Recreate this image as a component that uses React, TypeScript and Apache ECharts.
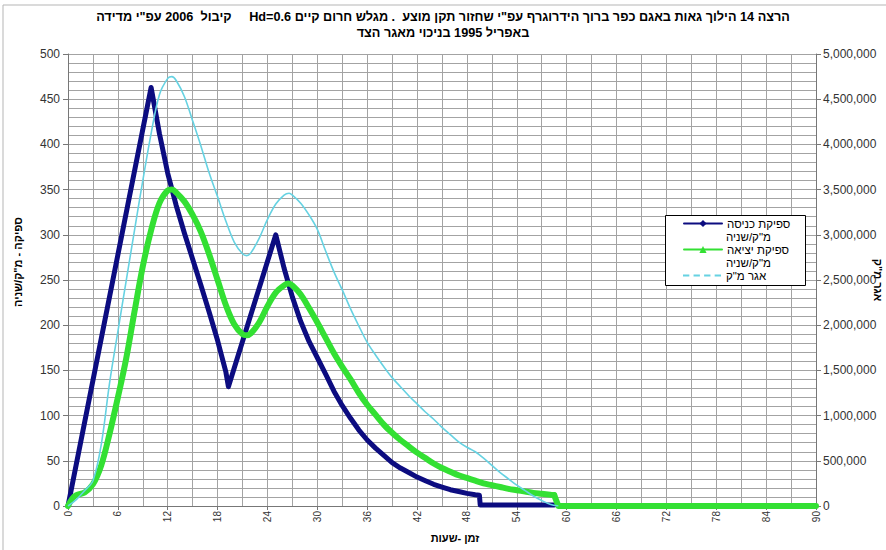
import React, { useEffect, useRef } from 'react';
import * as echarts from 'echarts';

const TITLE_LINE_1 = 'הרצה 14 הילוך גאות באגם כפר ברוך הידרוגרף עפ"י שחזור תקן מוצע  . מגלש חרום קיים Hd=0.6     קיבול  2006 עפ"י מדידה';
const TITLE_LINE_2 = 'באפריל 1995 בניכוי מאגר הצד';
const X_NAME = 'זמן -שעות';
const Y_LEFT_NAME = 'ספיקה - מ"ק/שניה';
const Y_RIGHT_NAME = 'אגר מ"ק';
const SERIES_IN = 'ספיקת כניסה';
const SERIES_OUT = 'ספיקת יציאה';
const SERIES_STORAGE = 'אגר מ"ק';
const UNIT_LINE = 'מ"ק/שניה';

// inflow hydrograph (m3/s)
const inflowHours = [0, 10, 11, 12, 13, 14, 15, 16, 17, 18, 19, 19.3, 25, 26, 27, 28, 29, 30, 31, 32, 33, 34, 35, 36, 37, 38, 39, 40, 41, 42, 43, 44, 45, 46, 47, 48, 49, 49.5, 49.6, 58.5];
const inflowValues = [0, 463, 412, 368, 333, 302, 273, 244, 214, 183, 148, 132, 300, 263, 231, 204, 182, 164, 146, 127, 111, 97, 84, 73, 64, 56, 48, 42, 37, 32, 28, 24, 21, 18, 16, 14, 12.5, 12, 1, 1];

// outflow hydrograph (m3/s)
const outflowHours = [0, 0.5, 1, 2, 3, 4, 5, 6, 7, 8, 9, 10, 11, 12, 12.5, 13, 14, 15, 16, 17, 18, 19, 20, 21, 21.5, 22, 23, 24, 25, 26, 26.5, 27, 28, 29, 30, 31, 32, 33, 34, 35, 36, 37, 38, 39, 40, 41, 42, 43, 44, 45, 46, 47, 48, 49, 50, 51, 52, 53, 54, 55, 56, 57, 58, 58.5];
const outflowValues = [0, 8, 12, 15, 24, 45, 80, 120, 163, 215, 265, 305, 335, 349, 350, 347, 337, 322, 303, 278, 250, 222, 201, 190, 189, 191, 203, 221, 236, 244, 246, 244, 234, 219, 203, 186, 169, 154, 140, 125, 112, 101, 90, 81, 73, 66, 59, 53, 47, 42, 38, 34, 31, 28, 25, 23, 21, 19, 17.5, 16, 14.5, 13.5, 12.5, 12];
const outflowTailHours = [58.5, 59, 90];
const outflowTailValues = [12, 0, 0];

// storage (m3)
const storageHours = [0, 1, 2, 3, 4, 5, 6, 7, 8, 9, 10, 11, 12, 12.5, 13, 14, 15, 16, 17, 18, 19, 20, 21, 21.5, 22, 23, 24, 25, 26, 26.6, 27, 28, 29, 30, 31, 32, 33, 34, 35, 36, 37, 38, 39, 40, 41, 42, 43, 44, 45, 46, 47, 48, 49, 50, 51, 52, 53, 54, 55, 56, 57, 58, 59];
const storageValues = [0, 70000, 170000, 280000, 680000, 1360000, 1930000, 2490000, 3050000, 3600000, 4120000, 4550000, 4730000, 4750000, 4710000, 4530000, 4260000, 3980000, 3680000, 3420000, 3150000, 2920000, 2790000, 2770000, 2800000, 2960000, 3170000, 3340000, 3440000, 3460000, 3440000, 3350000, 3220000, 3060000, 2820000, 2590000, 2390000, 2180000, 1990000, 1810000, 1670000, 1540000, 1420000, 1320000, 1220000, 1130000, 1040000, 960000, 870000, 790000, 710000, 650000, 600000, 530000, 450000, 370000, 300000, 230000, 170000, 110000, 60000, 20000, 0];

const X_TICKS_INTERVAL = 6;

const zip = (xs: number[], ys: number[]) => xs.map((x, i) => [x, ys[i]]);

const FONT = '"Liberation Sans", Arial, "DejaVu Sans", sans-serif';
const BLUE = '#0c0c80';
const GREEN = '#33e033';
const CYAN = '#66d2e2';
const GRID = '#a3a3a3';

const legendText = { fontFamily: FONT, fontSize: 11.5, color: '#000', lineHeight: 12 };

export default function App() {
  const ref = useRef<HTMLDivElement>(null);
  useEffect(() => {
    document.body.style.margin = '0';
    const el = ref.current!;
    const chart = echarts.init(el, null, { renderer: 'svg' });
    const option: any = {
      animation: false,
      backgroundColor: '#ffffff',
      title: {
        text: TITLE_LINE_1 + '\n' + TITLE_LINE_2,
        left: 'center',
        top: 9,
        padding: 0,
        textStyle: { fontFamily: FONT, fontSize: 12.7, fontWeight: 'bold', color: '#000', lineHeight: 16 },
      },
      grid: { left: 68, right: 70, top: 54, bottom: 44, containLabel: false, outerBoundsMode: 'none' },
      legend: [
        {
          data: [{ name: SERIES_IN, lineStyle: { width: 2 } }],
          left: 683, top: 217.5, orient: 'vertical', padding: 0, itemGap: 0,
          itemWidth: 38, itemHeight: 9, selectedMode: false, lineStyle: { width: 2 },
          textStyle: legendText,
        },
        {
          data: [{ name: SERIES_OUT, lineStyle: { width: 2 } }],
          left: 683, top: 243.5, orient: 'vertical', padding: 0, itemGap: 0,
          itemWidth: 38, itemHeight: 9, selectedMode: false, lineStyle: { width: 2 },
          textStyle: legendText,
        },
        {
          data: [{ name: SERIES_STORAGE, icon: 'path://M0,0h6v2H0z M10,0h6v2h-6z M20,0h6v2h-6z M30,0h6v2h-6z', itemStyle: { color: CYAN } }],
          left: 683, top: 269.5, orient: 'vertical', padding: 0, itemGap: 0,
          itemWidth: 38, itemHeight: 9, selectedMode: false,
          textStyle: legendText,
        },
      ],
      graphic: [
        { type: 'polyline', z: 1, shape: { points: [[3, 560], [3, 5], [900, 5]] }, style: { stroke: '#b5b5b5', lineWidth: 1, fill: null } },
        { type: 'rect', z: 3, shape: { x: 665.5, y: 215.5, width: 140, height: 70 }, style: { fill: '#fff', stroke: '#000', lineWidth: 1 } },
        { type: 'text', z: 5, x: 726, y: 236.5, style: { text: UNIT_LINE, fill: '#000', font: '11.5px ' + FONT, textAlign: 'left', textVerticalAlign: 'middle' } },
        { type: 'text', z: 5, x: 726, y: 262.5, style: { text: UNIT_LINE, fill: '#000', font: '11.5px ' + FONT, textAlign: 'left', textVerticalAlign: 'middle' } },
      ],
      xAxis: {
        type: 'value', min: 0, max: 90, interval: X_TICKS_INTERVAL,
        name: X_NAME, nameLocation: 'middle', nameGap: 26, nameMoveOverlap: false,
        nameTextStyle: { fontFamily: FONT, fontSize: 11, fontWeight: 'bold', color: '#000', padding: [0, 0, 0, 26] },
        axisLine: { show: true, onZero: false, lineStyle: { color: '#777', width: 1 } },
        axisTick: { show: true, inside: false, length: 4, lineStyle: { color: '#777' } },
        minorTick: { show: false, splitNumber: 2 },
        axisLabel: { rotate: 90, fontFamily: FONT, fontSize: 10, color: '#333', margin: 5 },
        splitLine: { show: true, lineStyle: { color: GRID, width: 1 } },
        minorSplitLine: { show: true, lineStyle: { color: GRID, width: 1 } },
      },
      yAxis: [
        {
          type: 'value', min: 0, max: 500, interval: 50, position: 'left',
          name: Y_LEFT_NAME, nameLocation: 'middle', nameGap: 45, nameRotate: 90, nameMoveOverlap: false,
          nameTextStyle: { fontFamily: FONT, fontSize: 11, fontWeight: 'bold', color: '#000', padding: [0, 0, 0, 36] },
          axisLine: { show: true, lineStyle: { color: '#777', width: 1 } },
          axisTick: { show: true, inside: false, length: 5, lineStyle: { color: '#777' } },
          minorTick: { show: false, splitNumber: 5 },
          axisLabel: { fontFamily: FONT, fontSize: 12, color: '#333', margin: 8 },
          splitLine: { show: true, lineStyle: { color: GRID, width: 1 } },
          minorSplitLine: { show: true, lineStyle: { color: GRID, width: 1 } },
        },
        {
          type: 'value', min: 0, max: 5000000, interval: 500000, position: 'right',
          name: Y_RIGHT_NAME, nameLocation: 'middle', nameGap: 56, nameRotate: -90, nameMoveOverlap: false,
          nameTextStyle: { fontFamily: FONT, fontSize: 11, fontWeight: 'bold', color: '#000' },
          axisLine: { show: true, lineStyle: { color: '#777', width: 1 } },
          axisTick: { show: true, inside: false, length: 5, lineStyle: { color: '#777' } },
          axisLabel: {
            fontFamily: FONT, fontSize: 12, color: '#333', margin: 7,
            formatter: (v: number) => v.toLocaleString('en-US'),
          },
          splitLine: { show: false },
        },
      ],
      series: [
        {
          name: SERIES_IN, type: 'line', yAxisIndex: 0, data: zip(inflowHours, inflowValues),
          showSymbol: false, symbol: 'diamond', z: 2,
          lineStyle: { color: BLUE, width: 5, cap: 'round', join: 'round' }, itemStyle: { color: BLUE },
        },
        {
          name: SERIES_OUT, type: 'line', yAxisIndex: 0, data: zip(outflowHours, outflowValues),
          showSymbol: false, symbol: 'triangle', smooth: 0.35, z: 3,
          lineStyle: { color: GREEN, width: 6, cap: 'round', join: 'round' }, itemStyle: { color: GREEN },
        },
        {
          name: SERIES_OUT, type: 'line', yAxisIndex: 0, data: zip(outflowTailHours, outflowTailValues),
          showSymbol: false, symbol: 'triangle', z: 3,
          lineStyle: { color: GREEN, width: 6, cap: 'round', join: 'round' }, itemStyle: { color: GREEN },
        },
        {
          name: SERIES_STORAGE, type: 'line', yAxisIndex: 1, data: zip(storageHours, storageValues),
          showSymbol: false, symbol: 'none', smooth: 0.35, z: 4,
          lineStyle: { color: CYAN, width: 1.6 }, itemStyle: { color: CYAN },
        },
      ],
    };
    chart.setOption(option);
    const fixBidi = () => {
      el.querySelectorAll('text').forEach((t) => {
        if (t.textContent && t.textContent.indexOf('Hd=0.6') >= 0) {
          t.setAttribute('direction', 'rtl');
          (t as any).style.direction = 'rtl';
          (t as any).style.unicodeBidi = 'embed';
        }
      });
    };
    fixBidi();
    chart.on('finished', fixBidi);
    return () => {
      chart.dispose();
    };
  }, []);
  return <div ref={ref} style={{ width: 886, height: 550 }} />;
}
